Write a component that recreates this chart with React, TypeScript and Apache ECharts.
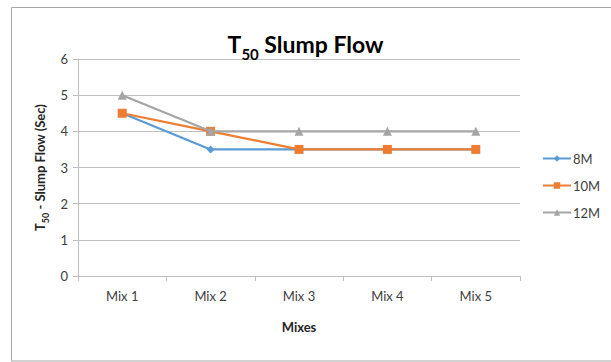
import React, { useEffect, useRef } from "react";
import * as echarts from "echarts";

const categories = ["Mix 1", "Mix 2", "Mix 3", "Mix 4", "Mix 5"];
const series8M = [4.5, 3.5, 3.5, 3.5, 3.5];
const series10M = [4.5, 4, 3.5, 3.5, 3.5];
const series12M = [5, 4, 4, 4, 4];
const seriesNames = ["8M", "10M", "12M"];
const seriesColors = ["#5B9BD5", "#ED7D31", "#A5A5A5"];
const seriesSymbols = ["diamond", "rect", "triangle"];
const seriesSymbolSizes = [8, 9, 9];

const FONT = "Lato, 'Open Sans', sans-serif";

export default function App() {
  const ref = useRef<HTMLDivElement>(null);

  useEffect(() => {
    if (!ref.current) return;
    const chart = echarts.init(ref.current, null, { renderer: "svg" });
    const data = [series8M, series10M, series12M];

    chart.setOption({
      animation: false,
      backgroundColor: "#ffffff",
      textStyle: { fontFamily: FONT },
      graphic: [
        {
          type: "rect",
          shape: { x: 11.5, y: 7.5, width: 700, height: 353.5 },
          style: { fill: "none", stroke: "#a6a6a6", lineWidth: 1 },
          silent: true,
        },
      ],
      title: {
        text: "{t|T}{s|50}{t| Slump Flow}",
        left: "center",
        top: 27,
        textStyle: {
          rich: {
            t: { fontFamily: FONT, fontSize: 23, fontWeight: "bold", color: "#000000", verticalAlign: "bottom", padding: [0, 0, 6, 0] },
            s: { fontFamily: FONT, fontSize: 15, fontWeight: "bold", color: "#000000", verticalAlign: "bottom" },
          },
        },
      },
      legend: {
        orient: "vertical",
        left: 537,
        top: 147,
        itemWidth: 28,
        itemHeight: 8,
        itemGap: 14,
        data: seriesNames,
        textStyle: { fontFamily: FONT, fontSize: 13, color: "#404040", padding: [0, 0, 0, -3] },
      },
      grid: { left: 78, right: 91, top: 59, bottom: 86 },
      xAxis: {
        type: "category",
        data: categories,
        boundaryGap: true,
        name: "Mixes",
        nameLocation: "middle",
        nameGap: 44,
        nameTextStyle: { fontFamily: FONT, fontSize: 13, fontWeight: "bold", color: "#262626" },
        axisLine: { lineStyle: { color: "#bfbfbf", width: 1 } },
        axisTick: { show: true, length: 5, lineStyle: { color: "#bfbfbf" } },
        axisLabel: { fontFamily: FONT, fontSize: 13, color: "#404040", margin: 13 },
      },
      yAxis: {
        type: "value",
        min: 0,
        max: 6,
        interval: 1,
        name: "{b|T}{s|50}{b| - Slump Flow (Sec)}",
        nameLocation: "middle",
        nameGap: 27,
        nameRotate: 90,
        nameTextStyle: {
          rich: {
            b: { fontFamily: FONT, fontSize: 13, fontWeight: "bold", color: "#262626", verticalAlign: "bottom", padding: [0, 0, 3, 0] },
            s: { fontFamily: FONT, fontSize: 9, fontWeight: "bold", color: "#262626", verticalAlign: "bottom" },
          },
        },
        axisLine: { show: true, lineStyle: { color: "#bfbfbf", width: 1 } },
        axisTick: { show: true, length: 5, lineStyle: { color: "#bfbfbf" } },
        axisLabel: { fontFamily: FONT, fontSize: 13, color: "#404040", margin: 10 },
        splitLine: { lineStyle: { color: "#bfbfbf", width: 1 } },
      },
      series: seriesNames.map((name, i) => ({
        name,
        type: "line",
        data: data[i],
        color: seriesColors[i],
        symbol: seriesSymbols[i],
        symbolSize: seriesSymbolSizes[i],
        lineStyle: { width: 2.25, color: seriesColors[i] },
        itemStyle: { color: seriesColors[i] },
        z: 2 + i,
      })),
    });

    return () => chart.dispose();
  }, []);

  return (
    <div
      ref={ref}
      style={{ position: "fixed", left: 0, top: 0, width: 611, height: 362 }}
    />
  );
}
